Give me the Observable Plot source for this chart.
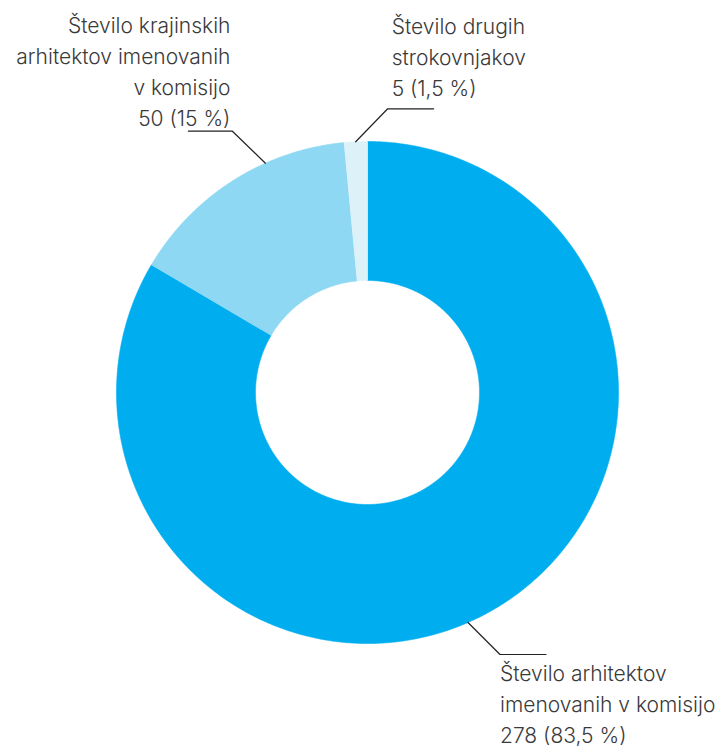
<!DOCTYPE html>
<html>
<head>
<meta charset="utf-8">
<script src="https://cdn.jsdelivr.net/npm/d3@7"></script>
<script src="https://cdn.jsdelivr.net/npm/@observablehq/plot@0.6"></script>
<style>
  html, body { margin: 0; padding: 0; background: #fff; }
  #chart { width: 718px; height: 746px; }
</style>
</head>
<body>
<div id="chart"></div>
<script>
// ---- data ----
const categories = [
  "Število arhitektov imenovanih v komisijo",
  "Število krajinskih arhitektov imenovanih v komisijo",
  "Število drugih strokovnjakov"
];
const values = [278, 50, 5];
const percentLabels = ["83,5 %", "15 %", "1,5 %"];
const labelLines = [
  ["Število arhitektov", "imenovanih v komisijo"],
  ["Število krajinskih", "arhitektov imenovanih", "v komisijo"],
  ["Število drugih", "strokovnjakov"]
];
const colors = ["#00aeef", "#8ed8f3", "#ddf1f8"];

// ---- layout (not data) ----
const W = 718, H = 746;
const cx = 367, cy = 392;       // centre in pixels
const R = 251, r0 = 112;        // outer / inner radius
// leader lines: angle on rim (deg clockwise from top), diagonal offset (y up), horizontal length, label placement
const leaders = [
  {angle: 156.4, dx: 32, dy: -32, h: 46, tdx: 0, textAnchor: "start", ty: -350},
  {angle: 336.0, dx: -33, dy: 32, h: -44, tdx: -2, textAnchor: "end", ty: 267},
  {angle: 357.3, dx: 32, dy: 33, h: 46, tdx: 4, textAnchor: "start", ty: 297}
];

const pie = d3.pie().sort(null).startAngle(0).endAngle(2 * Math.PI)(values);

const polys = [];
pie.forEach((p, i) => {
  const n = Math.max(4, Math.ceil((p.endAngle - p.startAngle) / (Math.PI / 360)));
  for (let k = 0; k <= n; k++) {
    const t = p.startAngle + (p.endAngle - p.startAngle) * k / n;
    polys.push({cat: categories[i], x: R * Math.sin(t), y: R * Math.cos(t)});
  }
  for (let k = n; k >= 0; k--) {
    const t = p.startAngle + (p.endAngle - p.startAngle) * k / n;
    polys.push({cat: categories[i], x: r0 * Math.sin(t), y: r0 * Math.cos(t)});
  }
});

const leaderPts = [];
const labels = [];
leaders.forEach((L, i) => {
  const a = L.angle * Math.PI / 180;
  const x0 = R * Math.sin(a), y0 = R * Math.cos(a);
  const x1 = x0 + L.dx, y1 = y0 + L.dy;
  const x2 = x1 + L.h;
  leaderPts.push({g: i, x: x0, y: y0}, {g: i, x: x1, y: y1}, {g: i, x: x2, y: y1});
  labels.push({
    x: x1 + L.tdx, y: L.ty, anchor: L.textAnchor,
    text: [...labelLines[i], `${values[i]} (${percentLabels[i]})`].join("\n")
  });
});

const textMark = (anchor) => Plot.text(labels.filter(d => d.anchor === anchor), {
  x: "x", y: "y", text: "text", textAnchor: anchor, lineAnchor: "bottom",
  lineHeight: 1.476, fontSize: 21, fill: "#3a3a3a", fontWeight: 300
});

const chart = Plot.plot({
  width: W, height: H, margin: 0,
  style: {fontFamily: "Inter, 'Noto Sans', sans-serif", background: "#fff", overflow: "visible"},
  x: {domain: [-cx, W - cx], axis: null},
  y: {domain: [cy - H, cy], axis: null},
  color: {domain: categories, range: colors},
  marks: [
    Plot.line(polys, {x: "x", y: "y", z: "cat", fill: "cat", stroke: "cat", strokeWidth: 0.6, curve: "linear"}),
    Plot.line(leaderPts, {x: "x", y: "y", z: "g", stroke: "#222", strokeWidth: 1.2}),
    textMark("start"),
    textMark("end")
  ]
});
document.getElementById("chart").appendChild(chart);
</script>
</body>
</html>
